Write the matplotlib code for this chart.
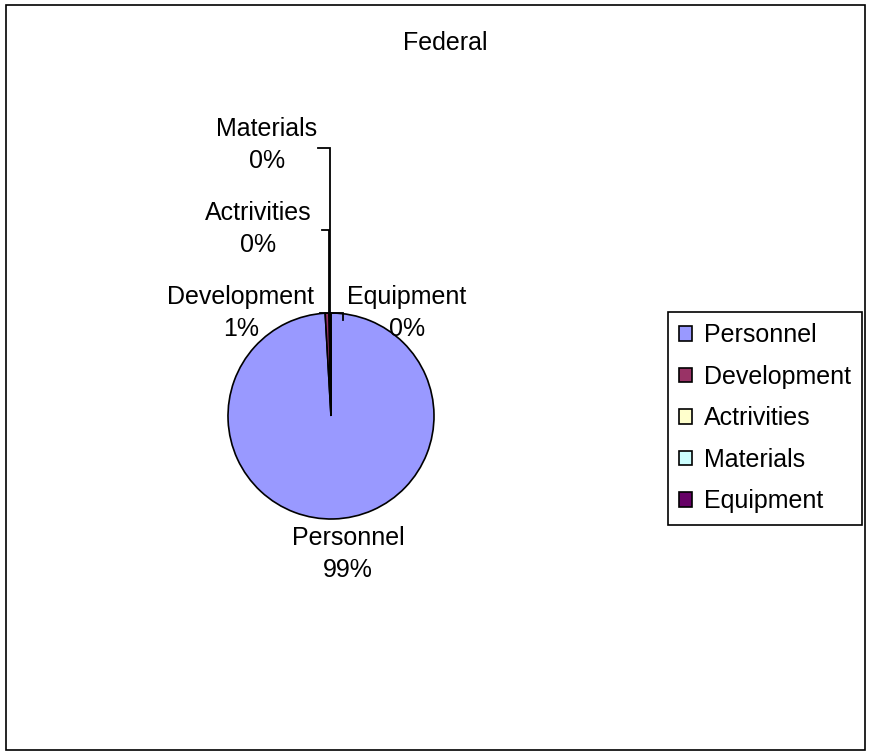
import matplotlib
matplotlib.use("Agg")
import matplotlib.pyplot as plt
from matplotlib.patches import Patch, Rectangle
import numpy as np

plt.rcParams["font.family"] = ["Liberation Sans", "DejaVu Sans"]

categories = ["Personnel", "Development", "Actrivities", "Materials", "Equipment"]
values = [99.1, 0.6, 0.1, 0.05, 0.15]
colors = ["#9999FF", "#993366", "#FFFFCC", "#CCFFFF", "#660066"]
title = "Federal"

W, H = 870, 755
CX, CY, R = 331, 416, 103   # pie centre / radius in pixels


def px(x, y):
    # pixel -> data coords (radius 1 = R pixels)
    return (x - CX) / R, (CY - y) / R


fig = plt.figure(figsize=(W / 100, H / 100), dpi=100)
ax = fig.add_axes([0, 0, 1, 1])
wedges, _ = ax.pie(values, colors=colors, startangle=90, counterclock=False,
                   wedgeprops=dict(edgecolor="black", linewidth=1.2))
ax.set_xlim(-CX / R, (W - CX) / R)
ax.set_ylim(-(H - CY) / R, CY / R)
ax.set_aspect("equal")
ax.axis("off")

total = sum(values)
cum = np.cumsum([0] + values[:-1])
mid = [np.deg2rad(90 - 360 * (c + v / 2) / total) for c, v in zip(cum, values)]
edge = [(np.cos(a), np.sin(a)) for a in mid]
pct = [f"{round(v / total * 100):.0f}%" for v in values]

# label block centres (pixels) and leader anchors
lab_pos = [(348, 554), (241, 313), (258, 229), (267, 145), (407, 313)]
anchor = [None, (320, 313), (322, 230), (318, 148), (343, 320)]

fs = 18
for i, (nm, p) in enumerate(zip(categories, pct)):
    x, y = px(*lab_pos[i])
    ax.text(x, y, f"{nm}\n{p}", ha="center", va="center", fontsize=fs, linespacing=1.45)
    if anchor[i] is None:
        continue
    ax_, ay_ = px(*anchor[i])
    ex, ey = edge[i]
    if i in (2, 3):
        xs, ys = [ax_, ex, ex], [ay_, ay_, ey]
    elif i == 4:
        xs, ys = [ax_, ax_, ex], [ay_, ey, ey]
    else:
        xs, ys = [ax_, ex], [ay_, ey]
    ax.plot(xs, ys, color="black", lw=1.3, solid_joinstyle="miter")

fig.text(445 / W, 1 - 43 / H, title, ha="center", va="center", fontsize=fs)

handles = [Patch(facecolor=c, edgecolor="black", lw=1.2) for c in colors]
leg = fig.legend(handles, categories, loc="upper left",
                 bbox_to_anchor=(668 / W, 1 - 312 / H), fontsize=fs,
                 frameon=True, fancybox=False, framealpha=1,
                 edgecolor="black", handlelength=0.5, handleheight=0.5,
                 handletextpad=0.5, labelspacing=0.7, borderpad=0.45,
                 borderaxespad=0)
leg.get_frame().set_linewidth(1.2)

fig.add_artist(Rectangle((6 / W, 5 / H), 859 / W, 745 / H, transform=fig.transFigure,
                         fill=False, edgecolor="black", lw=1.2))

fig.savefig("out.png", dpi=100)
